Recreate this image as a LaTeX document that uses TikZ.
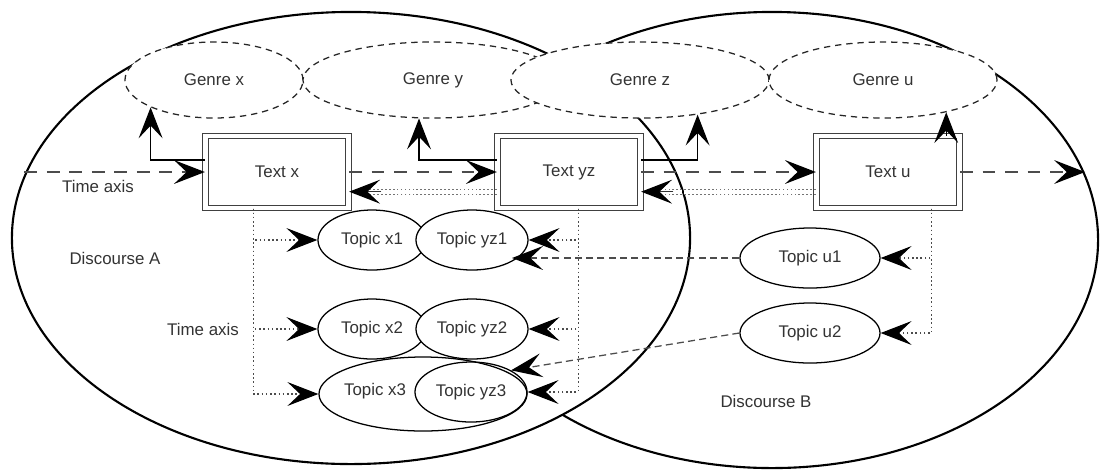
\documentclass[tikz,border=0pt]{standalone}
\usepackage{fontspec}
\setmainfont{Liberation Sans}
\usetikzlibrary{shapes,arrows.meta,positioning}

\begin{document}
\begin{tikzpicture}[x=0.025cm,y=-0.025cm,
  font=\fontsize{12}{14}\selectfont, text=black!80,
  discourse/.style={draw,ellipse,line width=1.5pt,inner sep=0pt},
  genre/.style={draw=black!85,ellipse,dash pattern=on 4.5pt off 3.5pt,line width=0.9pt,fill=white,minimum height=1.9cm},
  textbox/.style={draw=black!75,double,double distance=3.2pt,line width=0.7pt,fill=white,minimum width=3.58cm,minimum height=1.8cm},
  topic/.style={draw,ellipse,line width=0.9pt,inner sep=1pt,minimum width=2.8cm,minimum height=1.5cm},
  tip/.style={-{Stealth[length=22pt,width=17pt,inset=9pt,color=black]}},
  timeline/.style={tip,draw=black!70,line width=0.9pt,dash pattern=on 9pt off 7pt},
  link/.style={tip,line width=0.9pt},
  dotlink/.style={tip,draw=black!70,line width=0.8pt,dash pattern=on 1.1pt off 1.9pt},
  dashlink/.style={tip,draw=black!70,line width=0.9pt,dash pattern=on 5pt off 3pt},
  backlink/.style={draw=black!55,double,double distance=2.6pt,line width=0.8pt,dash pattern=on 1.2pt off 1.6pt},
  lbl/.style={inner sep=1pt}]
\useasboundingbox (0,0) rectangle (1100,470);
% Draw the two discourses
\node[discourse, minimum width=16.3cm, minimum height=11.4cm] (discB) at (772,240) {};
\node[discourse, fill=white, minimum width=16.95cm, minimum height=11.3cm] (discA) at (351,238) {};
% Draw the genres
\node[genre, minimum width=4.45cm] (gx) at (214,80) {Genre x};
\node[genre, minimum width=6.5cm] (gy) at (433,80) {Genre y};
\node[genre, minimum width=6.45cm] (gz) at (640,80) {Genre z};
\node[genre, minimum width=5.7cm] (gu) at (883,80) {Genre u};
% Draw the texts
\node[textbox] (tx) at (277,172) {Text x};
\node[textbox] (tyz) at (569,172) {Text yz};
\node[textbox] (tu) at (888,172) {Text u};
% Draw the topics
\node[topic, minimum width=2.7cm] (x1) at (372,240) {Topic x1};
\node[topic, minimum width=2.7cm] (x2) at (372,329) {Topic x2};
\node[topic, minimum width=5.2cm, minimum height=1.85cm] (x3) at (423,394) {};
\node[topic, fill=white] (yz1) at (472,240) {Topic yz1};
\node[topic, fill=white] (yz2) at (472,329) {Topic yz2};
\node[topic] (yz3) at (471,392) {Topic yz3};
\node[lbl] (x3text) at (375,391) {Topic x3};
\node[topic, fill=white, minimum width=3.5cm] (u1) at (810,258) {Topic u1};
\node[topic, fill=white, minimum width=3.5cm] (u2) at (810,333) {Topic u2};
% Draw the labels
\node[lbl] (axis1) at (98,186) {Time axis};
\node[lbl] (axis2) at (203,329) {Time axis};
\node[lbl] (discAtext) at (115,258) {Discourse A};
\node[lbl] (discBtext) at (766,401) {Discourse B};
% Draw the time axis
\draw[timeline] (tx.west -| discA.169) -- (tx.west);
\draw[timeline] (tx.east) -- (tyz.west);
\draw[timeline] (tyz.east) -- (tu.west);
\draw[timeline] (tu.east) -- (tu.east -| discB.12);
% Draw the texts to genres
\draw[link] ([yshift=8.5pt]tx.west) -| (gx.south west);
\draw[link] ([yshift=8.5pt]tyz.west) -| (gy.-110);
\draw[link] ([yshift=8.5pt]tyz.east) -| (gz.-31);
\draw[link] (gu.-27 |- tu.north) -- (gu.-27);
% Draw the back links between texts
\draw[backlink] ([yshift=-14pt]tyz.west) -- ([yshift=-14pt,xshift=10pt]tx.east);
\draw[tip,draw=black!80,line width=0.8pt] ([yshift=-14pt,xshift=23pt]tx.east) -- ([yshift=-14pt]tx.east);
\draw[backlink] ([yshift=-14pt]tu.west) -- ([yshift=-14pt,xshift=10pt]tyz.east);
\draw[tip,draw=black!80,line width=0.8pt] ([yshift=-14pt,xshift=23pt]tyz.east) -- ([yshift=-14pt]tyz.east);
% Draw the texts to topics
\draw[dotlink] ([xshift=-17pt]tx.south) |- (x1.west);
\draw[dotlink] ([xshift=-17pt]tx.south) |- (x2.west);
\draw[dotlink] ([xshift=-17pt]tx.south) |- (x3.west);
\draw[dotlink] ([xshift=6.5pt]tyz.south) |- (yz1.east);
\draw[dotlink] ([xshift=6.5pt]tyz.south) |- (yz2.east);
\draw[dotlink] ([xshift=6.5pt]tyz.south) |- (yz3.east);
\draw[dotlink] ([xshift=31pt]tu.south) |- (u1.east);
\draw[dotlink] ([xshift=31pt]tu.south) |- (u2.east);
% Draw the topic links
\draw[dashlink] (u1.west) -- (yz1.south east |- u1.west);
\draw[dashlink] (u2.west) -- (yz3.north east);
\end{tikzpicture}
\end{document}
